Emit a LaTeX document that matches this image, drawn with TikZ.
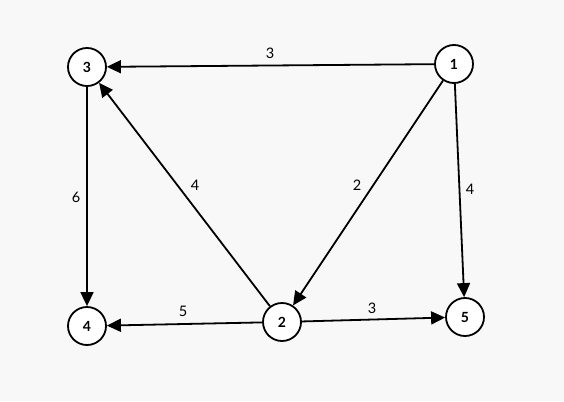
\documentclass[tikz,border=0pt]{standalone}
\usepackage{fontspec}
\setmainfont{Lato}
\usetikzlibrary{arrows.meta}
\begin{document}
\begin{tikzpicture}[x=1pt,y=-1pt,
  vertex/.style={circle,draw,line width=1.8pt,fill=white,minimum size=38pt,inner sep=0pt,font=\fontsize{14}{14}\selectfont\bfseries},
  edge/.style={line width=1.8pt,-{Triangle[length=14pt,width=13pt]}},
  lbl/.style={font=\fontsize{14.5}{14.5}\selectfont,inner sep=1pt}]
\fill[fill={rgb,255:red,248;green,248;blue,248}] (0,0) rectangle (564,401);
\useasboundingbox (0,0) rectangle (564,401);
\node[vertex] (n1) at (454,64) {1};
\node[vertex] (n3) at (87,67) {3};
\node[vertex] (n2) at (282,322) {2};
\node[vertex] (n4) at (87,326) {4};
\node[vertex] (n5) at (465,317) {5};
\draw[edge] (n1) -- (n3);
\draw[edge] (n1) -- (n2);
\draw[edge] (n1) -- (n5);
\draw[edge] (n3) -- (n4);
\draw[edge] (n2) -- (n3);
\draw[edge] (n2) -- (n4);
\draw[edge] (n2) -- (n5);
\node[lbl] (l13) at (270,53) {3};
\node[lbl] (l34) at (76,197) {6};
\node[lbl] (l23) at (195,185) {4};
\node[lbl] (l12) at (357,185) {2};
\node[lbl] (l15) at (470,189) {4};
\node[lbl] (l24) at (183,311) {5};
\node[lbl] (l25) at (372,308) {3};
\end{tikzpicture}
\end{document}
